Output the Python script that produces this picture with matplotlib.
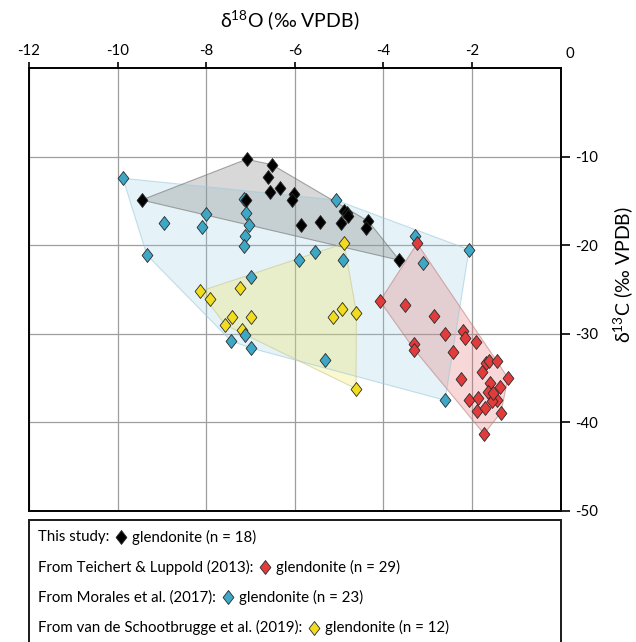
import matplotlib
matplotlib.use('Agg')
import matplotlib.pyplot as plt
from matplotlib.lines import Line2D
from matplotlib.patches import Rectangle, Polygon
import numpy as np

plt.rcParams['font.family'] = ['Lato', 'DejaVu Sans']
plt.rcParams['mathtext.fontset'] = 'custom'
plt.rcParams['mathtext.rm'] = 'Lato'
plt.rcParams['mathtext.default'] = 'regular'

# ── data (d18O, d13C) ─────────────────────────────────────────────────────────
this_study_x = [-7.09, -6.52, -6.61, -6.33, -6.57, -6.02, -6.06, -9.46, -7.11,
                -5.86, -5.43, -4.96, -4.88, -4.83, -4.79, -4.34, -4.40, -3.64]
this_study_y = [-10.3, -10.9, -12.3, -13.5, -14.0, -14.2, -14.9, -14.9, -14.9,
                -17.7, -17.4, -17.5, -16.1, -16.4, -16.7, -17.3, -18.1, -21.7]

teichert_x = [-3.24, -4.08, -3.52, -2.87, -3.32, -3.30, -2.60, -2.44, -2.20, -2.17,
              -1.91, -2.26, -1.68, -1.61, -1.44, -1.78, -1.19, -1.59, -1.37, -1.65,
              -1.44, -1.55, -2.08, -1.86, -1.89, -1.71, -1.35, -1.73, -1.52]
teichert_y = [-19.8, -26.3, -26.7, -28.0, -31.1, -31.8, -30.0, -32.0, -29.7, -30.5,
              -30.9, -35.1, -33.3, -33.1, -33.1, -34.3, -35.0, -35.5, -36.0, -36.6,
              -37.5, -37.6, -37.5, -37.3, -38.7, -38.4, -38.9, -41.3, -36.7]

morales_x = [-9.88, -8.95, -8.00, -8.09, -7.15, -7.10, -7.03, -7.12, -7.15, -9.34,
             -5.08, -5.54, -5.90, -4.92, -7.00, -3.28, -2.07, -3.11, -2.61, -7.44,
             -7.12, -7.00, -5.32]
morales_y = [-12.45, -17.5, -16.5, -17.9, -14.8, -16.4, -17.7, -19.0, -20.1, -21.1,
             -14.9, -20.8, -21.7, -21.7, -23.6, -19.0, -20.5, -22.0, -37.5, -30.8,
             -30.1, -31.6, -33.0]

schoot_x = [-8.14, -7.91, -7.23, -7.41, -7.57, -6.99, -7.20, -5.13, -4.94, -4.61,
            -4.62, -4.89]
schoot_y = [-25.2, -26.1, -24.8, -28.1, -29.0, -28.1, -29.6, -28.1, -27.2, -27.6,
            -36.2, -19.8]

x_ticks = [-12, -10, -8, -6, -4, -2]
y_ticks = [-10, -20, -30, -40, -50]

legend_rows = [
    ('This study:', 'glendonite (n = 18)', 'black'),
    ('From Teichert & Luppold (2013):', 'glendonite (n = 29)', 'red'),
    ('From Morales et al. (2017):', 'glendonite (n = 23)', 'blue'),
    ('From van de Schootbrugge et al. (2019):', 'glendonite (n = 12)', 'yellow'),
]

colors = {'black': '#000000', 'red': '#e23b3b', 'blue': '#3fa7c6', 'yellow': '#f2dc1e'}
hull_style = {
    'black': dict(fc='#808080', alpha=0.30, ec='#707070'),
    'red': dict(fc='#e06060', alpha=0.25, ec='#c08080'),
    'blue': dict(fc='#9ad0e4', alpha=0.25, ec='#9ccbdc'),
    'yellow': dict(fc='#f0e040', alpha=0.25, ec='#c8c890'),
}

diamond = [(0, 1), (0.78, 0), (0, -1), (-0.78, 0), (0, 1)]


def convex_hull(xs, ys):
    pts = sorted(set(zip(xs, ys)))

    def cross(o, a, b):
        return (a[0] - o[0]) * (b[1] - o[1]) - (a[1] - o[1]) * (b[0] - o[0])
    lower, upper = [], []
    for p in pts:
        while len(lower) >= 2 and cross(lower[-2], lower[-1], p) <= 0:
            lower.pop()
        lower.append(p)
    for p in reversed(pts):
        while len(upper) >= 2 and cross(upper[-2], upper[-1], p) <= 0:
            upper.pop()
        upper.append(p)
    return lower[:-1] + upper[:-1]


W, H = 636, 642
fig = plt.figure(figsize=(W / 100, H / 100), dpi=100)
ax = fig.add_axes([29 / W, 1 - 511 / H, (560.7 - 29) / W, (511 - 68) / H])
ax.set_xlim(-12, 0)
ax.set_ylim(-50, 0)

groups = {
    'black': (this_study_x, this_study_y),
    'red': (teichert_x, teichert_y),
    'blue': (morales_x, morales_y),
    'yellow': (schoot_x, schoot_y),
}

# hull polygons
for i, key in enumerate(['blue', 'black', 'red', 'yellow']):
    hx, hy = groups[key]
    st = hull_style[key]
    poly = Polygon(convex_hull(hx, hy), closed=True, facecolor=st['fc'],
                   alpha=st['alpha'], edgecolor='none', zorder=1 + i * 0.1)
    ax.add_patch(poly)
    edge = Polygon(convex_hull(hx, hy), closed=True, fill=False,
                   edgecolor=st['ec'], lw=0.8, alpha=0.6, zorder=1.5)
    ax.add_patch(edge)

# points
for i, key in enumerate(['yellow', 'blue', 'red', 'black']):
    px, py = groups[key]
    ax.scatter(px, py, s=100, marker=diamond, c=colors[key],
               edgecolors='#2b2b2b', linewidths=0.6, zorder=3 + i)

# axes formatting
ax.xaxis.tick_top()
ax.yaxis.tick_right()
ax.set_xticks(x_ticks)
ax.set_xticklabels([str(t) for t in x_ticks])
ax.set_yticks(y_ticks)
ax.set_yticklabels([str(t) for t in y_ticks])
ax.tick_params(axis='x', direction='out', length=4.5, width=1.2, pad=3, labelsize=10.8)
ax.tick_params(axis='y', direction='out', length=6.5, width=1.2, pad=4, labelsize=10.8)
for sp in ax.spines.values():
    sp.set_linewidth(1.4)
ax.grid(True, color='#9e9e9e', lw=0.9)
ax.set_axisbelow(True)

fig.text(570 / W, 1 - 54 / H, '0', ha='center', va='center', fontsize=10.8)
fig.text(290 / W, 1 - 20 / H, 'δ$^{18}$O (‰ VPDB)', ha='center', va='center', fontsize=14)
fig.text(623 / W, 1 - 275 / H, 'δ$^{13}$C (‰ VPDB)', ha='center', va='center',
         fontsize=14, rotation=90)

# legend box
fig.patches.append(Rectangle((29 / W, -0.1), (560.7 - 29) / W, (1 - 520 / H) + 0.1,
                             transform=fig.transFigure, fill=False, lw=1.4,
                             edgecolor='#1a1a1a'))
renderer = fig.canvas.get_renderer()
for i, (lead, tail, key) in enumerate(legend_rows):
    yf = 1 - (537 + i * 30.2) / H
    t = fig.text(38 / W, yf, lead, ha='left', va='center', fontsize=10.8)
    bb = t.get_window_extent(renderer)
    xm = bb.x1 + 12
    fig.add_artist(Line2D([xm / W], [yf], marker=diamond, markersize=10,
                          color=colors[key], markeredgecolor='#2b2b2b',
                          markeredgewidth=0.6, transform=fig.transFigure))
    fig.text((xm + 11) / W, yf, tail, ha='left', va='center', fontsize=10.8)

fig.savefig('out.png', dpi=100)
